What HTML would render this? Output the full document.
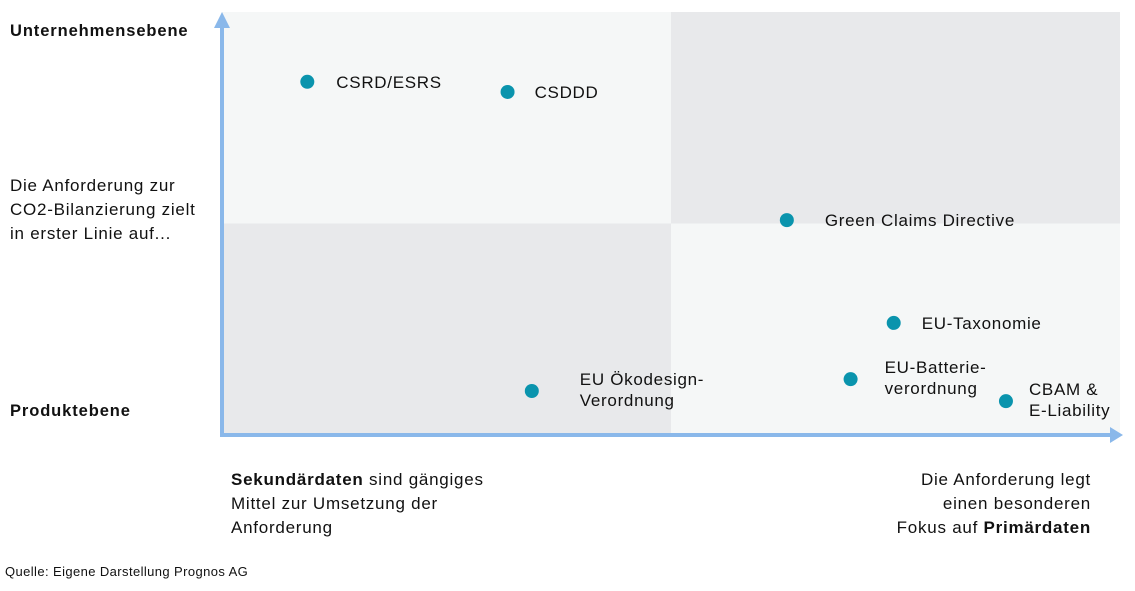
<!DOCTYPE html>
<html><head><meta charset="utf-8">
<style>
body{margin:0;background:#fff;width:1135px;height:586px;overflow:hidden;font-family:"Liberation Sans",sans-serif;}
svg text{font-family:"Liberation Sans",sans-serif;fill:#111;}
</style></head><body>
<svg width="1135" height="586">
<g id="quad"></g>
<g id="axes"></g>
<g id="pts"></g>
<text x="10" y="36" font-size="16.5" font-weight="bold" letter-spacing="0.9">Unternehmensebene</text>
<text x="10" y="416" font-size="16.5" font-weight="bold" letter-spacing="0.9">Produktebene</text>
<text font-size="17" letter-spacing="0.75"><tspan x="10" y="191">Die Anforderung zur</tspan><tspan x="10" y="215">CO2-Bilanzierung zielt</tspan><tspan x="10" y="239">in erster Linie auf...</tspan></text>
<text font-size="17" letter-spacing="0.75"><tspan x="231" y="485"><tspan font-weight="bold">Sekundärdaten</tspan> sind gängiges</tspan><tspan x="231" y="509">Mittel zur Umsetzung der</tspan><tspan x="231" y="533">Anforderung</tspan></text>
<text font-size="17" letter-spacing="0.75" text-anchor="end"><tspan x="1091" y="485">Die Anforderung legt</tspan><tspan x="1091" y="509">einen besonderen</tspan><tspan x="1091" y="533">Fokus auf <tspan font-weight="bold">Primärdaten</tspan></tspan></text>
<text x="5" y="576" font-size="13" letter-spacing="0.4" fill="#333">Quelle: Eigene Darstellung Prognos AG</text>
</svg>
<script>
const names=[["CSRD/ESRS"],["CSDDD"],["Green Claims Directive"],["EU-Taxonomie"],["EU-Batterie-","verordnung"],["CBAM &","E-Liability"],["EU Ökodesign-","Verordnung"]];
const xVals=[9.5,31.8,62.9,74.8,70.0,87.3,34.5];
const yVals=[83.5,81.1,50.8,26.5,13.2,8.0,10.4];
const labelDx=[29,27,38,28,34,23,48];
const L=222,R=1120,T=12,B=435;
const xs=v=>L+v*(R-L)/100, ys=v=>B-v*(B-T)/100;
const NS="http://www.w3.org/2000/svg";
function mk(p,t,a){const e=document.createElementNS(NS,t);for(const k in a)e.setAttribute(k,a[k]);p.appendChild(e);return e;}
const q=document.getElementById('quad');
const quads=[[0,50,50,100,'#f5f7f7','quadrant-top-left'],[50,50,100,100,'#e8e9eb','quadrant-top-right'],[0,0,50,50,'#e8e9eb','quadrant-bottom-left'],[50,0,100,50,'#f5f7f7','quadrant-bottom-right']];
quads.forEach(d=>{const r=mk(q,'rect',{x:xs(d[0]),y:ys(d[3]),width:xs(d[2])-xs(d[0]),height:ys(d[1])-ys(d[3]),fill:d[4]});

});
const ax=document.getElementById('axes');
const c='#8ab8ea';
let e=mk(ax,'line',{x1:L,y1:B+2,x2:L,y2:T+14,stroke:c,'stroke-width':4});


e=mk(ax,'polygon',{points:`${L-8},${T+16} ${L+8},${T+16} ${L},${T}`,fill:c});


e=mk(ax,'line',{x1:L-2,y1:B,x2:R-8,y2:B,stroke:c,'stroke-width':4});


e=mk(ax,'polygon',{points:`${R-10},${B-8} ${R-10},${B+8} ${R+3},${B}`,fill:c});


const p=document.getElementById('pts');
names.forEach((n,i)=>{const g=mk(p,'g',{});


const cx=xs(xVals[i]),cy=ys(yVals[i]);
mk(g,'circle',{cx:cx,cy:cy,r:7,fill:'#0a94ad'});
const y0=n.length>1?cy-6:cy+6;
n.forEach((s,j)=>{const t=mk(g,'text',{x:cx+labelDx[i],y:y0+j*21,'font-size':17,'letter-spacing':0.7});t.textContent=s;});
});
</script>
</body></html>
